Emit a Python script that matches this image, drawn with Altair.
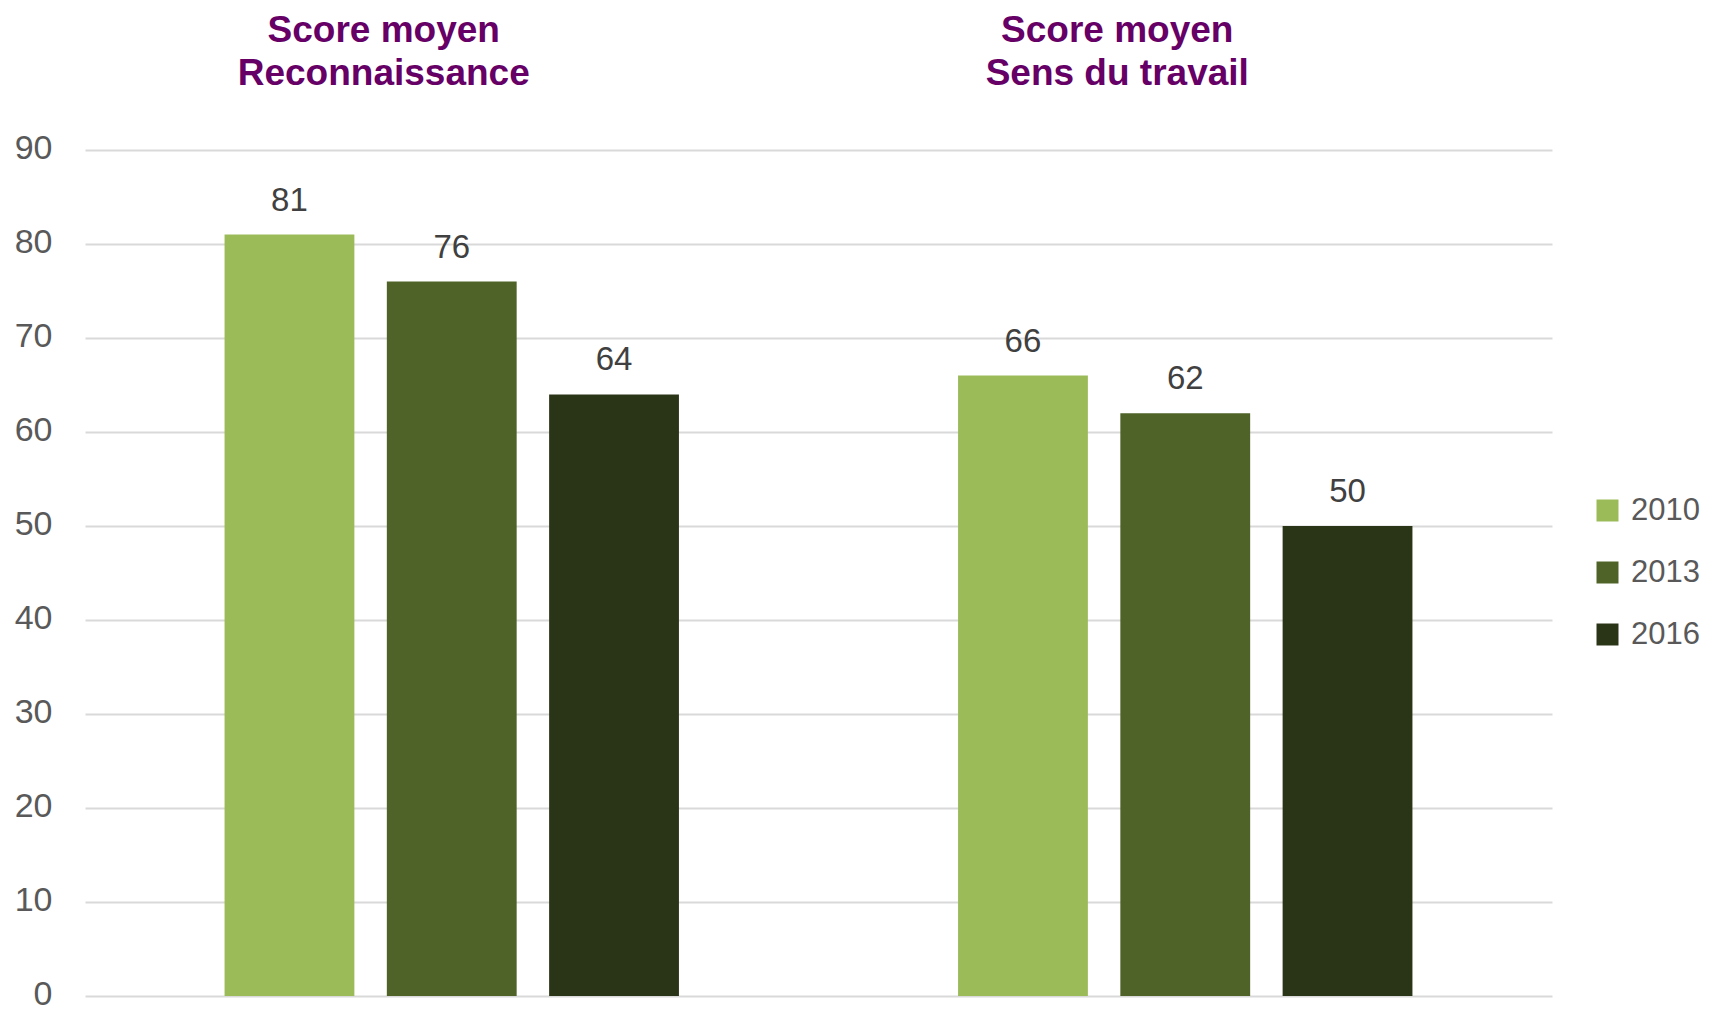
import altair as alt
import pandas as pd

categories = ["Score moyen|Reconnaissance", "Score moyen|Sens du travail"]
years = ["2010", "2013", "2016"]
reconnaissance = [81, 76, 64]
sens_du_travail = [66, 62, 50]
colors = ["#9bbb59", "#4f6228", "#2a3518"]

rows = []
for cat, vals in zip(categories, [reconnaissance, sens_du_travail]):
    for yr, v in zip(years, vals):
        rows.append({"cat": cat, "year": yr, "value": v})
df = pd.DataFrame(rows)

FONT = "Liberation Sans, Arial, sans-serif"

base = alt.Chart(df).encode(
    x=alt.X(
        "cat:N",
        sort=categories,
        scale=alt.Scale(paddingInner=0, paddingOuter=0),
        axis=alt.Axis(
            orient="top",
            title=None,
            labelExpr="split(datum.label, '|')",
            labelAngle=0,
            labelFont=FONT,
            labelFontWeight="bold",
            labelFontSize=37,
            labelColor="#660066",
            labelLineHeight=43,
            labelBaseline="alphabetic",
            labelPadding=109,
            labelOffset=-68,
            labelLimit=600,
            ticks=False,
            tickSize=0,
            domain=False,
            grid=False,
        ),
    ),
    xOffset=alt.XOffset(
        "year:N", sort=years, scale=alt.Scale(paddingInner=0.2, paddingOuter=0.86)
    ),
    y=alt.Y(
        "value:Q",
        scale=alt.Scale(domain=[0, 90], nice=False),
        axis=alt.Axis(
            values=list(range(0, 91, 10)),
            title=None,
            domain=False,
            ticks=False,
            gridColor="#d9d9d9",
            gridWidth=2,
            labelFont=FONT,
            labelFontSize=34,
            labelColor="#595959",
            labelPadding=33,
            labelOffset=-2,
        ),
    ),
)

bars = base.mark_bar().encode(
    color=alt.Color(
        "year:N",
        sort=years,
        scale=alt.Scale(domain=years, range=colors),
        legend=alt.Legend(
            title=None,
            orient="none",
            legendX=1507,
            legendY=345,
            symbolType="square",
            symbolSize=484,
            symbolStrokeWidth=0,
            labelFont=FONT,
            labelFontSize=31,
            labelColor="#595959",
            rowPadding=30,
            labelOffset=8,
            padding=0,
        ),
    )
)

text = base.mark_text(
    baseline="alphabetic",
    dy=-24,
    font=FONT,
    fontSize=33,
    color="#404040",
).encode(text="value:Q")

chart = (
    alt.layer(bars, text)
    .properties(
        width=1467,
        height=846,
        autosize=alt.AutoSizeParams(type="none"),
        padding={"left": 77, "top": 142, "right": 154, "bottom": 14},
    )
    .configure_view(stroke=None)
)

chart.save("out.html", embed_options={"renderer": "svg", "actions": False})
